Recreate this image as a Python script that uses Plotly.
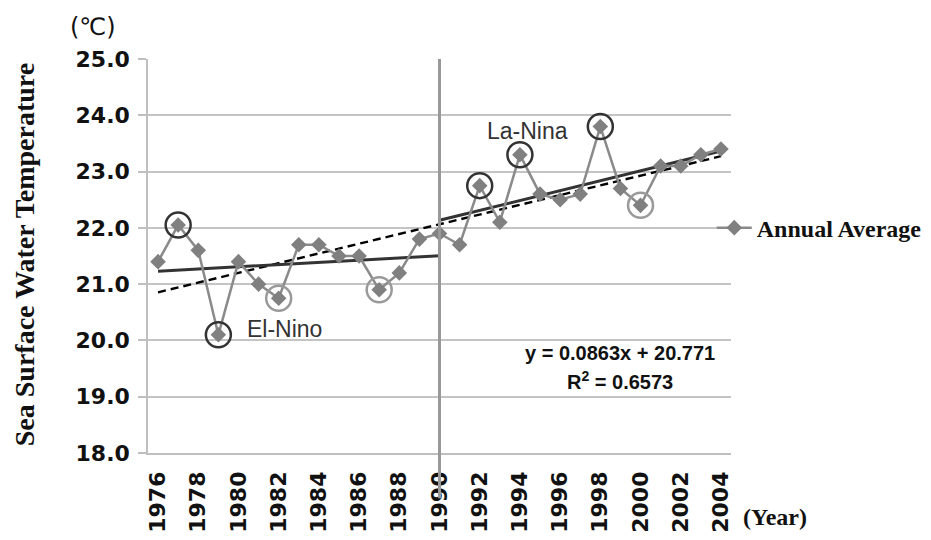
import numpy as np
import plotly.graph_objects as go

years = list(range(1976, 2005))
temps = [21.4, 22.05, 21.6, 20.1, 21.4, 21.0, 20.75, 21.7, 21.7, 21.5,
         21.5, 20.9, 21.2, 21.8, 21.9, 21.7, 22.75, 22.1, 23.3, 22.6,
         22.5, 22.6, 23.8, 22.7, 22.4, 23.1, 23.1, 23.3, 23.4]
dark_circle_years = [1977, 1979, 1992, 1994, 1998]
light_circle_years = [1982, 1987, 2000]
tick_years = list(range(1976, 2005, 2))
ytick_vals = [18, 19, 20, 21, 22, 23, 24, 25]
split_year = 1990

yr = np.array(years, dtype=float)
tp = np.array(temps)

def fit(mask):
    c = np.polyfit(yr[mask], tp[mask], 1)
    xs = yr[mask][[0, -1]]
    return xs, np.polyval(c, xs)

x_all, y_all = fit(yr >= 0)
x_a, y_a = fit(yr <= split_year)
x_b, y_b = fit(yr >= split_year)

fig = go.Figure()

fig.add_trace(go.Scatter(x=x_all, y=y_all, mode="lines", showlegend=False,
                         line=dict(color="black", width=2.4, dash="8px,5px"),
                         hoverinfo="skip"))
fig.add_trace(go.Scatter(x=x_a, y=y_a, mode="lines", showlegend=False,
                         line=dict(color="#333333", width=3), hoverinfo="skip"))
fig.add_trace(go.Scatter(x=x_b, y=y_b, mode="lines", showlegend=False,
                         line=dict(color="#333333", width=3), hoverinfo="skip"))

fig.add_trace(go.Scatter(x=years, y=temps, mode="lines+markers", name="Annual Average",
                         line=dict(color="#8a8a8a", width=2.5),
                         marker=dict(symbol="diamond", size=12, color="#808080")))

dy = [temps[years.index(y)] for y in dark_circle_years]
ly = [temps[years.index(y)] for y in light_circle_years]
fig.add_trace(go.Scatter(x=dark_circle_years, y=dy, mode="markers", showlegend=False,
                         marker=dict(symbol="circle-open", size=25, color="#333333",
                                     line=dict(color="#333333", width=2.5)),
                         hoverinfo="skip"))
fig.add_trace(go.Scatter(x=light_circle_years, y=ly, mode="markers", showlegend=False,
                         marker=dict(symbol="circle-open", size=25, color="#9a9a9a",
                                     line=dict(color="#9a9a9a", width=2.5)),
                         hoverinfo="skip"))

fig.add_shape(type="line", xref="x", yref="paper", x0=split_year, x1=split_year,
              y0=-0.115, y1=1.0, line=dict(color="#999999", width=3))

tick_font = dict(family="DejaVu Sans", size=22, color="#111111", weight="bold")
serif_b = dict(family="Liberation Serif", size=24, color="#111111", weight="bold")

fig.update_layout(
    width=923, height=532,
    margin=dict(l=140, r=200, t=51, b=87, autoexpand=False),
    plot_bgcolor="white", paper_bgcolor="white",
    xaxis=dict(range=[1975.5, 2004.5], tickvals=tick_years,
               ticktext=[str(t) for t in tick_years], tickangle=-90,
               tickfont=tick_font, showgrid=False, zeroline=False,
               showline=True, linecolor="#bfbfbf", linewidth=1.5,
               ticks="", ticklabelstandoff=8, automargin=False),
    yaxis=dict(range=[18, 25], tickvals=ytick_vals,
               ticktext=[f"{v:.1f}" for v in ytick_vals],
               tickfont=tick_font, showgrid=True, gridcolor="#c4c4c4", gridwidth=1.5,
               zeroline=False, showline=True, linecolor="#bfbfbf", linewidth=1.5,
               ticks="outside", ticklen=8, tickcolor="#bfbfbf", tickwidth=1.5,
               ticklabelstandoff=4, automargin=False),
    legend=dict(x=0.967, y=0.571, xanchor="left", yanchor="middle", itemwidth=35,
                font=serif_b, bgcolor="rgba(0,0,0,0)"),
    annotations=[
        dict(text="Sea Surface Water Temperature", xref="paper", yref="paper",
             x=-0.212, y=0.503, xanchor="center", yanchor="middle",
             textangle=-90, showarrow=False,
             font=dict(family="Liberation Serif", size=28, color="#111111", weight="bold")),
        dict(text="(℃)", xref="paper", yref="paper", x=-0.094, y=1.082,
             xanchor="center", yanchor="middle",
             showarrow=False, font=dict(family="DejaVu Sans", size=24, color="#111111")),
        dict(text="(Year)", xref="paper", yref="paper", x=1.017, y=-0.162,
             xanchor="left", yanchor="middle", showarrow=False, font=serif_b),
        dict(text="El-Nino", x=1980.3, y=20.2, xanchor="left", showarrow=False,
             font=dict(family="Liberation Sans", size=23, color="#333333")),
        dict(text="La-Nina", x=1992.27, y=23.72, xanchor="left", showarrow=False,
             font=dict(family="Liberation Sans", size=23, color="#333333")),
        dict(text="y = 0.0863x + 20.771", x=1999.0, y=19.78, showarrow=False,
             font=dict(family="Liberation Sans", size=20, color="#111111", weight="bold")),
        dict(text="R<sup>2</sup> = 0.6573", x=1999.0, y=19.28, showarrow=False,
             font=dict(family="Liberation Sans", size=20, color="#111111", weight="bold")),
    ],
)

fig.write_html("out.html")
